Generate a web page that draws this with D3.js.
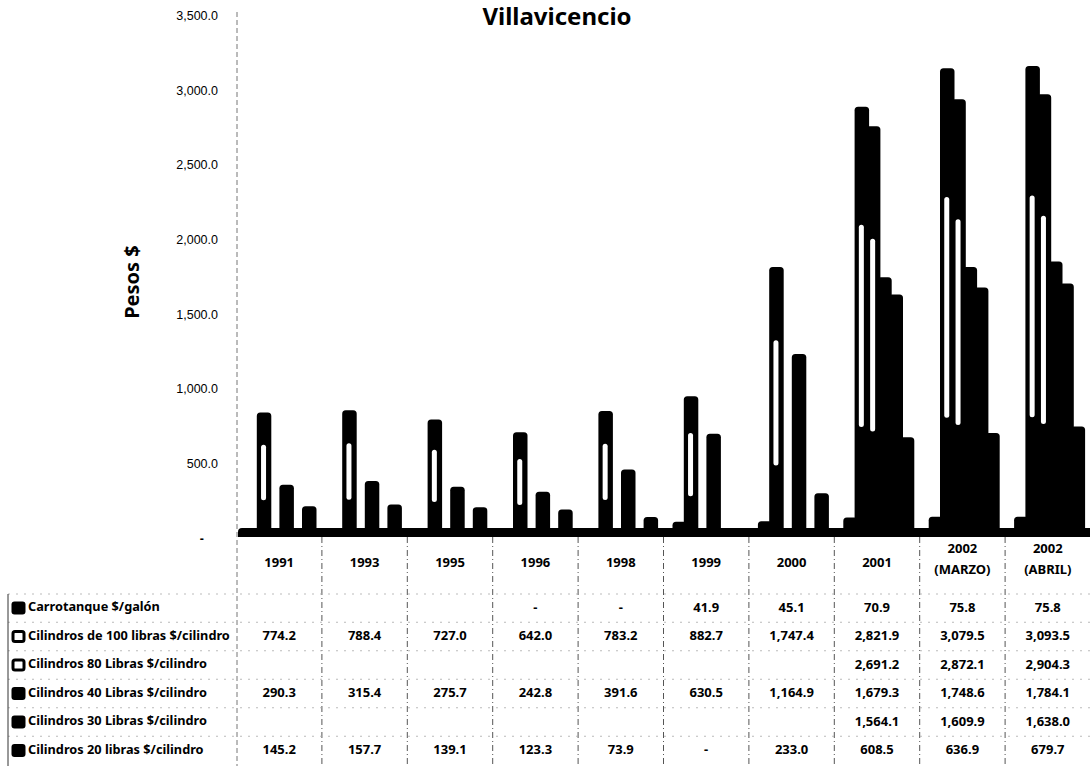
<!DOCTYPE html>
<html><head><meta charset="utf-8">
<script src="https://cdn.jsdelivr.net/npm/d3@7"></script>
<style>body{margin:0;background:#fff}</style>
</head><body>
<svg id="c" width="1090" height="766"></svg>
<script>
const categories = ["1991","1993","1995","1996","1998","1999","2000","2001","2002 (MARZO)","2002 (ABRIL)"];
const seriesNames = ["Carrotanque $/galón","Cilindros de 100 libras $/cilindro","Cilindros 80 Libras $/cilindro","Cilindros 40 Libras $/cilindro","Cilindros 30 Libras $/cilindro","Cilindros 20 libras $/cilindro"];
const carrotanque = [null,null,null,0,0,41.9,45.1,70.9,75.8,75.8];
const cil100 = [774.2,788.4,727.0,642.0,783.2,882.7,1747.4,2821.9,3079.5,3093.5];
const cil80 = [null,null,null,null,null,null,null,2691.2,2872.1,2904.3];
const cil40 = [290.3,315.4,275.7,242.8,391.6,630.5,1164.9,1679.3,1748.6,1784.1];
const cil30 = [null,null,null,null,null,null,null,1564.1,1609.9,1638.0];
const cil20 = [145.2,157.7,139.1,123.3,73.9,0,233.0,608.5,636.9,679.7];
const yTicks = [0,500,1000,1500,2000,2500,3000,3500];
const title = "Villavicencio";
const yTitle = "Pesos $";

const seriesValues = [carrotanque,cil100,cil80,cil40,cil30,cil20];
const hollow = [false,true,true,false,false,false];

const svg = d3.select("#c");
const FONT = "'Noto Sans', 'DejaVu Sans', sans-serif";

const x = d3.scaleBand().domain(categories).range([236.5,1090.5]);
const xs = d3.scaleBand().domain(seriesNames).range([9, 9+6*11.3]);
const barW = 14.5;
const y = d3.scaleLinear().domain([0,3500]).range([528,5.4]);
const depth = 10; // 3D depth offset of the axis labels
const yAxisScale = d3.scaleLinear().domain([0,3500]).range([528+depth,5.4+depth]);

// title
svg.append("text").attr("x",557).attr("y",18).attr("text-anchor","middle")
  .attr("dominant-baseline","middle").attr("font-family",FONT).attr("font-weight","bold")
  .attr("font-size",24).text(title);

// y title
svg.append("text").attr("transform","translate(134,282) rotate(-90)").attr("text-anchor","middle")
  .attr("dominant-baseline","middle").attr("font-family",FONT).attr("font-weight","bold")
  .attr("font-size",20).text(yTitle);

// y axis line (dashed)
svg.append("line").attr("x1",237).attr("x2",237).attr("y1",12).attr("y2",766)
  .attr("stroke","#777").attr("stroke-width",1).attr("stroke-dasharray","5,3");

// y axis labels
const axis = d3.axisLeft(yAxisScale).tickValues(yTicks).tickSize(0).tickPadding(19)
  .tickFormat(v => v===0 ? "-" : d3.format(",.1f")(v));
const ag = svg.append("g").attr("transform","translate(237,0)").call(axis);
ag.select(".domain").remove();
ag.selectAll("text").attr("font-family","'Liberation Sans', Arial, sans-serif")
  .attr("font-size",12.5).attr("fill","#000");
ag.selectAll(".tick").filter(d=>d===0).select("text").attr("dx",-14).attr("font-weight","bold");

// floor
svg.append("path")
  .attr("d",`M238,537 L238,532 Q238,528 242,528 L1090,528 L1090,537 Z`)
  .attr("fill","#000");

function topRounded(x0,y0,w,h,r){
  r = Math.min(r,h/2,w/2);
  return `M${x0},${y0+h}V${y0+r}Q${x0},${y0} ${x0+r},${y0}H${x0+w-r}Q${x0+w},${y0} ${x0+w},${y0+r}V${y0+h}Z`;
}

// bars
const bars = [];
categories.forEach((c,i)=>{
  seriesNames.forEach((s,j)=>{
    const v = seriesValues[j][i];
    if (v!==null && v>0) bars.push({c,s,v,j});
  });
});
const bottom = 533;
const bg = svg.append("g");
bg.selectAll("path.bar").data(bars).join("path").attr("class","bar")
  .attr("d",d=>{
    const x0 = x(d.c)+xs(d.s);
    const y0 = y(d.v);
    return topRounded(x0,y0,barW,bottom-y0,3.5);
  }).attr("fill","#000");
// white highlight strips in 100 / 80 lb bars
bg.selectAll("rect.strip").data(bars.filter(d=>hollow[d.j])).join("rect").attr("class","strip")
  .attr("x",d=>x(d.c)+xs(d.s)+barW/2-3)
  .attr("width",5)
  .attr("y",d=>{const h=y(0)-y(d.v); return y(d.v)+0.28*h;})
  .attr("height",d=>{const h=y(0)-y(d.v); return 0.48*h;})
  .attr("rx",2.5).attr("fill","#fff");

// table
const headerY = 563;
const rowY = [608, 636.5, 665, 693.5, 722, 750.5];
const tg = svg.append("g");
// column lines
const colEdges = categories.map(c=>x(c)).concat([x(categories[categories.length-1])+x.bandwidth()]);
tg.selectAll("line.col").data(colEdges.slice(1,-1)).join("line").attr("class","col")
  .attr("x1",d=>d).attr("x2",d=>d).attr("y1",537).attr("y2",766)
  .attr("stroke","#555").attr("stroke-width",1).attr("stroke-dasharray","6,3,1,3");
// row separators
const sepY = [594].concat(rowY.slice(0,-1).map((r,i)=>(r+rowY[i+1])/2));
tg.selectAll("line.row").data(sepY).join("line").attr("class","row")
  .attr("x1",8).attr("x2",1090).attr("y1",d=>d).attr("y2",d=>d)
  .attr("stroke","#aaa").attr("stroke-width",0.8).attr("stroke-dasharray","2,6");
// legend left border
tg.append("line").attr("x1",8).attr("x2",8).attr("y1",594).attr("y2",766)
  .attr("stroke","#333").attr("stroke-width",1);

// header labels
categories.forEach(c=>{
  const cx = x(c)+x.bandwidth()/2;
  const parts = c.split(" ");
  const t = tg.append("text").attr("text-anchor","middle").attr("font-family",FONT)
    .attr("font-weight","bold").attr("font-size",13).attr("dominant-baseline","middle");
  if (parts.length===1) { t.attr("x",cx).attr("y",headerY).text(c); }
  else {
    t.append("tspan").attr("x",cx).attr("y",549).text(parts[0]);
    t.append("tspan").attr("x",cx).attr("y",570).text(parts[1]);
  }
});

// row labels + icons
const fmt = d3.format(",.1f");
seriesNames.forEach((s,j)=>{
  const ry = rowY[j];
  if (hollow[j]) {
    tg.append("rect").attr("x",13).attr("y",ry-5).attr("width",11).attr("height",10).attr("rx",2)
      .attr("fill","#fff").attr("stroke","#000").attr("stroke-width",3);
  } else {
    tg.append("rect").attr("x",11.5).attr("y",ry-6.5).attr("width",14).attr("height",13).attr("rx",3)
      .attr("fill","#000");
  }
  tg.append("text").attr("class","rowlab").attr("x",28).attr("y",ry).attr("dominant-baseline","middle")
    .attr("font-family",FONT).attr("font-weight","bold").attr("font-size",12.5).text(s);
  categories.forEach((c,i)=>{
    const v = seriesValues[j][i];
    if (v===null) return;
    tg.append("text").attr("x",x(c)+x.bandwidth()/2).attr("y",ry).attr("text-anchor","middle")
      .attr("dominant-baseline","middle").attr("font-family",FONT).attr("font-weight","bold")
      .attr("font-size",13).text(v===0?"-":fmt(v));
  });
});
// fit row label width to the reference (longest label ~202px)
const labs = tg.selectAll("text.rowlab");
const maxW = d3.max(labs.nodes(), n=>n.getComputedTextLength());
if (maxW>0) labs.attr("font-size",12.5*202/maxW);
</script>
</body></html>
